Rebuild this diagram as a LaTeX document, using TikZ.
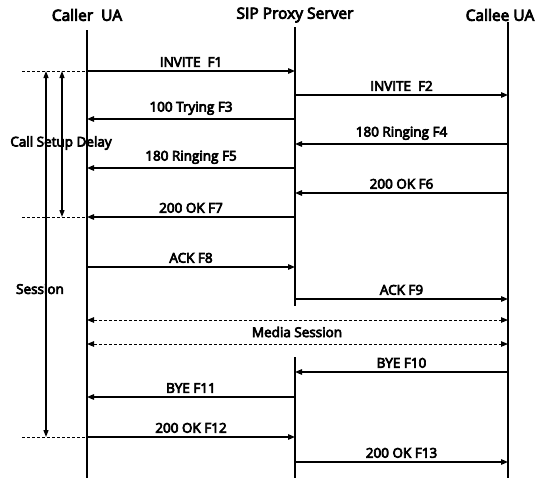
\documentclass[tikz,border=0pt]{standalone}
\usepackage{fontspec}
\setmainfont{Open Sans}[FakeBold=5]
\usetikzlibrary{arrows.meta}
\begin{document}
\begin{tikzpicture}[x=1pt,y=-1pt,
  life/.style={line width=1.6pt},
  msg/.style={line width=1.3pt,-{Triangle[length=7pt,width=5.5pt]}},
  media/.style={line width=1pt,dashed,dash pattern=on 3pt off 2pt,{Triangle[length=7pt,width=5.5pt]}-{Triangle[length=7pt,width=5.5pt]}},
  guide/.style={line width=0.9pt,dash pattern=on 3pt off 2pt},
  span/.style={line width=1.2pt,{Triangle[length=7pt,width=5pt]}-{Triangle[length=7pt,width=5pt]}},
  lbl/.style={font=\fontsize{13.5}{15}\selectfont,above=2.5pt,inner sep=1pt},
  head/.style={font=\fontsize{15.5}{17}\selectfont,inner sep=0pt}]
\useasboundingbox (0,0) rectangle (538,480);
% headers
\node[head] (hC) at (87,15) {Caller\ \ UA};
\node[head] (hP) at (295,15) {SIP Proxy Server};
\node[head] (hE) at (500,15) {Callee UA};
% lifelines
\coordinate (Ct) at (87,30); \coordinate (Cb) at (87,478);
\coordinate (Pt) at (295,27); \coordinate (Pm) at (295,306);
\coordinate (Pn) at (295,357); \coordinate (Pb) at (295,478);
\coordinate (Et) at (508,22); \coordinate (Eb) at (508,478);
\draw[life] (Ct) -- (Cb);
\draw[life] (Pt) -- (Pm);
\draw[life] (Pn) -- (Pb);
\draw[life] (Et) -- (Eb);
% message coordinates
\foreach \n/\y in {1/71,2/95,3/119,4/144,5/168,6/193,7/217,8/267,9/299,10/372,11/397,12/437,13/462,ma/320,mb/344}{
  \coordinate (C\n) at (87,\y);
  \coordinate (P\n) at (295,\y);
  \coordinate (E\n) at (508,\y);
}
\draw[msg] (C1) -- (P1) node[lbl,midway] {INVITE\ \ F1};
\draw[msg] (P2) -- (E2) node[lbl,midway] {INVITE\ \ F2};
\draw[msg] (P3) -- (C3) node[lbl,midway] {100 Trying F3};
\draw[msg] (E4) -- (P4) node[lbl,midway] {180 Ringing F4};
\draw[msg] (P5) -- (C5) node[lbl,midway] {180 Ringing F5};
\draw[msg] (E6) -- (P6) node[lbl,midway] {200 OK F6};
\draw[msg] (P7) -- (C7) node[lbl,midway] {200 OK F7};
\draw[msg] (C8) -- (P8) node[lbl,midway] {ACK F8};
\draw[msg] (P9) -- (E9) node[lbl,midway] {ACK F9};
\draw[media] (Cma) -- (Ema);
\draw[media] (Cmb) -- (Emb);
\node[font=\fontsize{13.5}{15}\selectfont] (ms) at (297,332) {Media Session};
\draw[msg] (E10) -- (P10) node[lbl,midway] {BYE F10};
\draw[msg] (P11) -- (C11) node[lbl,midway] {BYE F11};
\draw[msg] (C12) -- (P12) node[lbl,midway] {200 OK F12};
\draw[msg] (P13) -- (E13) node[lbl,midway] {200 OK F13};
% left guides
\coordinate (G1) at (22,71); \coordinate (G7) at (22,217); \coordinate (G12) at (22,437);
\draw[guide] (G1) -- (C1);
\draw[guide] (G7) -- (C7);
\draw[guide] (G12) -- (C12);
% spans
\coordinate (Sa) at (46,71); \coordinate (Sb) at (46,437);
\coordinate (Da) at (62,71); \coordinate (Db) at (62,217);
\draw[span] (Sa) -- (Sb);
\draw[span] (Da) -- (Db);
\node[font=\fontsize{13.5}{15}\selectfont,inner sep=0pt] (csd) at (61,143) {Call Setup Delay};
\node[font=\fontsize{13.5}{15}\selectfont,inner sep=0pt] (ses) at (40,289) {Session};
\end{tikzpicture}
\end{document}
